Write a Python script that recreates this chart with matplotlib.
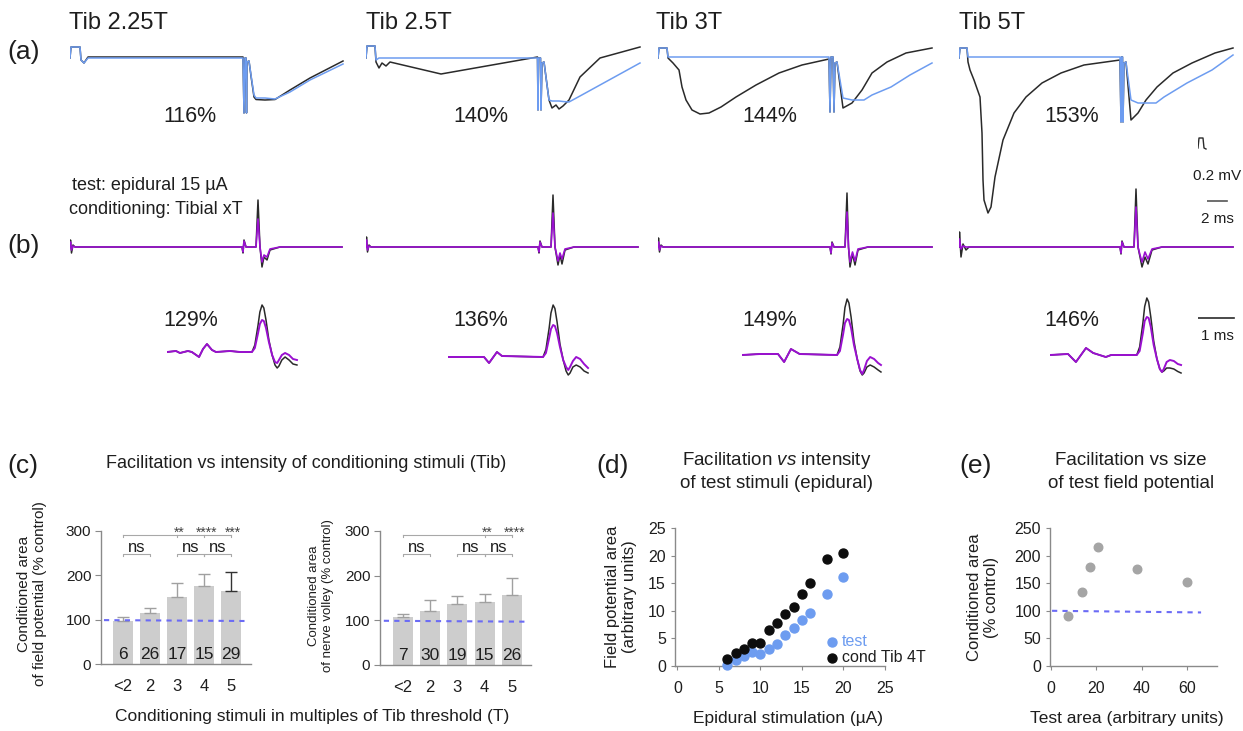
import numpy as np
import matplotlib
matplotlib.use("Agg")
import matplotlib.pyplot as plt

plt.rcParams['font.family'] = ['Liberation Sans', 'DejaVu Sans']
plt.rcParams['mathtext.fontset'] = 'custom'
plt.rcParams['mathtext.it'] = 'Liberation Sans:italic'
plt.rcParams['mathtext.rm'] = 'Liberation Sans'

# ---- labels ----
COLUMN_TITLES = ['Tib 2.25T', 'Tib 2.5T', 'Tib 3T', 'Tib 5T']
FP_PERCENT = ['116%', '140%', '144%', '153%']
NV_PERCENT = ['129%', '136%', '149%', '146%']

# ---- (a) field potentials (time ms, amplitude mV) ----
a1_t = [0, 0.1, 1.0, 1.1, 1.4, 1.8, 10.0, 17.3, 17.4, 17.5, 17.6, 17.65, 17.7, 17.9, 18.1, 18.4, 18.6, 19.5, 20.5, 22.0, 24.0, 27.3]
a1_blue = [0, 0.22, 0.22, -0.04, -0.1, 0, 0, 0, -1.1, 0, 0, -1.1, -0.08, -0.06, -0.34, -0.74, -0.8, -0.8, -0.82, -0.68, -0.44, -0.12]
a1_black = [0, 0.22, 0.22, -0.04, -0.1, 0.02, 0.02, 0.02, -1.1, 0, 0, -1.1, -0.08, -0.06, -0.36, -0.78, -0.83, -0.84, -0.83, -0.64, -0.4, -0.06]

a2_t = [0, 0.1, 0.9, 1.0, 1.3, 1.6, 2.0, 2.4, 7.5, 17.15, 17.2, 17.25, 17.45, 17.5, 17.6, 17.8, 18.3, 18.6, 19.0, 19.3, 19.7, 20.3, 21.4, 23.4, 27.4]
a2_blue = [0, 0.24, 0.24, -0.04, 0, 0, 0, 0, 0, 0, -1.04, 0, 0, -1.04, -0.1, -0.08, -0.84, -0.86, -0.86, -0.86, -0.87, -0.88, -0.76, -0.54, -0.1]
a2_black = [0, 0.24, 0.24, -0.08, -0.2, -0.1, -0.16, -0.08, -0.32, 0.02, -1.04, 0, 0, -1.04, -0.1, -0.08, -0.84, -1.0, -0.94, -1.02, -0.96, -0.84, -0.38, 0.0, 0.22]

a3_blue_t = [0, 0.1, 0.9, 1.0, 17.1, 17.2, 17.3, 17.5, 17.6, 17.7, 17.9, 18.5, 19.4, 20.6, 21.4, 23.3, 25.2, 27.4]
a3_blue = [0, 0.2, 0.2, 0.02, 0.02, -1.08, 0.02, 0.02, -1.08, -0.1, -0.08, -0.8, -0.84, -0.84, -0.74, -0.58, -0.34, -0.1]
a3_black_t = [0, 0.1, 0.9, 1.0, 1.5, 2.1, 2.4, 2.8, 3.4, 4.2, 5.1, 6.3, 7.8, 9.8, 12.1, 14.4, 17.1, 17.2, 17.3, 17.5,
              17.6, 17.7, 17.9, 18.5, 19.4, 20.4, 21.4, 22.9, 24.8, 27.4]
a3_black = [0, 0.2, 0.2, 0, -0.1, -0.24, -0.58, -0.84, -1.04, -1.12, -1.1, -0.98, -0.78, -0.54, -0.3, -0.14, -0.02, -1.08, 0.02, 0.02,
            -1.08, -0.1, -0.08, -1.0, -0.9, -0.64, -0.3, -0.08, 0.1, 0.2]

a4_blue_t = [0, 0.1, 0.8, 0.9, 16.1, 16.2, 16.25, 16.35, 16.4, 16.5, 16.7, 17.2, 17.9, 19.7, 20.5, 22.8, 25.3, 27.4]
a4_blue = [0, 0.2, 0.2, 0.02, 0.02, -1.28, 0.02, 0.02, -1.28, -0.1, -0.08, -0.84, -0.9, -0.9, -0.78, -0.5, -0.24, 0.06]
a4_black_t = [0, 0.1, 0.8, 0.9, 1.1, 1.5, 2.1, 2.3, 2.4, 2.5, 2.9, 3.2, 3.6, 4.4, 5.5, 6.7, 8.3, 10.2, 12.5, 16.1,
              16.2, 16.25, 16.35, 16.4, 16.5, 16.7, 17.2, 17.9, 18.7, 19.8, 21.4, 23.3, 25.6, 27.4]
a4_black = [0, 0.2, 0.2, -0.08, -0.24, -0.44, -0.78, -1.5, -2.44, -2.84, -3.1, -2.98, -2.38, -1.64, -1.1, -0.78, -0.5, -0.3, -0.14, -0.04,
            -1.28, 0.02, 0.02, -1.28, -0.1, -0.08, -1.24, -1.1, -0.84, -0.58, -0.3, -0.1, 0.1, 0.2]

# ---- (b) nerve volleys ----
b1_t = [0, 0.05, 0.15, 0.3, 0.5, 17.2, 17.3, 17.4, 17.6, 18.6, 18.8, 19.0, 19.2, 19.4, 19.7, 20.0, 21.0, 27.2]
b1_black = [0, 0.14, -0.12, 0.04, 0, 0, -0.12, 0.14, 0, 0, 0.94, 0, -0.4, -0.2, -0.26, -0.06, 0, 0]
b1_purple = [0, 0.1, -0.06, 0.02, 0, 0, -0.1, 0.12, 0, 0, 0.56, 0, -0.3, -0.16, -0.2, -0.04, 0, 0]

b2_t = [0, 0.05, 0.15, 0.3, 0.5, 17.2, 17.3, 17.4, 17.6, 18.5, 18.7, 18.9, 19.2, 19.4, 19.6, 19.9, 20.8, 27.2]
b2_black = [0, 0.2, -0.1, 0.04, 0, 0, -0.12, 0.12, 0, 0, 1.04, 0, -0.36, -0.16, -0.34, -0.06, 0, 0]
b2_purple = [0, 0.14, -0.06, 0.02, 0, 0, -0.1, 0.1, 0, 0, 0.68, 0, -0.28, -0.12, -0.24, -0.04, 0, 0]

b3_t = [0, 0.05, 0.15, 0.3, 0.5, 17.2, 17.3, 17.4, 17.6, 18.7, 18.9, 19.05, 19.2, 19.45, 19.7, 20.0, 21.0, 27.4]
b3_black = [0, 0.18, -0.1, 0.04, 0, 0, -0.14, 0.1, 0, 0, 1.08, 0, -0.4, -0.14, -0.36, -0.06, 0, 0]
b3_purple = [0, 0.1, -0.06, 0.02, 0, 0, -0.12, 0.08, 0, 0, 0.7, 0, -0.3, -0.1, -0.28, -0.04, 0, 0]

b4_t = [0, 0.05, 0.2, 0.4, 0.7, 1.0, 16.1, 16.2, 16.3, 16.5, 17.5, 17.7, 17.9, 18.1, 18.3, 18.6, 18.9, 19.3, 20.3, 27.4]
b4_black = [0, 0.3, -0.2, 0.06, -0.06, 0, 0, -0.14, 0.12, 0, 0, 1.16, 0, -0.2, -0.4, -0.2, -0.34, -0.06, 0, 0]
b4_purple = [0, 0.16, -0.04, 0.02, 0, 0, 0, -0.12, 0.1, 0, 0, 0.8, 0, -0.16, -0.3, -0.1, -0.24, -0.04, 0, 0]

# ---- (b) expanded volleys ----
z1_t = [0, 0.25, 0.36, 0.58, 0.69, 0.89, 1.0, 1.11, 1.25, 1.36, 1.75, 2.03,
        2.36, 2.44, 2.53, 2.58, 2.64, 2.69, 2.75, 2.83, 2.92, 3.0, 3.06, 3.11, 3.19, 3.28, 3.39, 3.5, 3.61]
z1_black = [0, 0.02, -0.02, 0.02, 0, -0.1, 0.06, 0.16, 0.04, 0, 0.02, 0,
            0, 0.14, 0.54, 0.8, 0.94, 0.88, 0.64, 0.24, -0.06, -0.26, -0.32, -0.28, -0.16, -0.1, -0.16, -0.24, -0.26]
z1_purple = [0, 0.02, -0.02, 0.02, 0, -0.1, 0.06, 0.16, 0.04, 0, 0.02, 0,
             0, 0.08, 0.38, 0.56, 0.64, 0.62, 0.48, 0.2, -0.06, -0.2, -0.22, -0.16, -0.06, -0.02, -0.06, -0.14, -0.16]

z2_t = [0, 0.5, 1.0, 1.14, 1.36, 1.5,
        2.64, 2.72, 2.81, 2.86, 2.92, 2.97, 3.03, 3.11, 3.2, 3.28, 3.34, 3.39, 3.47, 3.56, 3.67, 3.78, 3.89]
z2_black = [0, 0, 0, -0.12, 0.1, 0.02,
            0, 0.15, 0.58, 0.88, 1.04, 0.97, 0.7, 0.26, -0.06, -0.28, -0.36, -0.32, -0.2, -0.16, -0.2, -0.28, -0.32]
z2_purple = [0, 0, 0, -0.12, 0.1, 0.02,
             0, 0.08, 0.38, 0.56, 0.64, 0.62, 0.48, 0.2, -0.06, -0.2, -0.26, -0.2, -0.08, 0, -0.04, -0.14, -0.22]

z3_t = [0, 0.5, 1.0, 1.17, 1.36, 1.6,
        2.64, 2.72, 2.81, 2.86, 2.92, 2.97, 3.03, 3.11, 3.2, 3.28, 3.34, 3.39, 3.47, 3.56, 3.67, 3.78, 3.86]
z3_black = [0, 0.02, 0.02, -0.14, 0.12, 0.02,
            0, 0.16, 0.62, 0.95, 1.12, 1.04, 0.76, 0.28, -0.08, -0.32, -0.4, -0.36, -0.24, -0.2, -0.24, -0.3, -0.34]
z3_purple = [0, 0.02, 0.02, -0.14, 0.12, 0.02,
             0, 0.08, 0.42, 0.64, 0.72, 0.7, 0.54, 0.2, -0.08, -0.3, -0.38, -0.3, -0.12, -0.04, -0.08, -0.16, -0.2]

z4_t = [0, 0.5, 0.72, 1.0, 1.2, 1.55, 1.7,
        2.41, 2.49, 2.58, 2.63, 2.69, 2.74, 2.8, 2.88, 2.97, 3.05, 3.11, 3.16, 3.24, 3.33, 3.44, 3.55, 3.64]
z4_black = [0, 0.02, -0.14, 0.14, 0.04, -0.04, 0,
            0, 0.16, 0.64, 0.97, 1.14, 1.06, 0.76, 0.28, -0.08, -0.28, -0.34, -0.32, -0.26, -0.26, -0.28, -0.33, -0.36]
z4_purple = [0, 0.02, -0.14, 0.14, 0.04, -0.04, 0,
             0, 0.08, 0.44, 0.68, 0.76, 0.74, 0.56, 0.2, -0.08, -0.28, -0.34, -0.28, -0.14, -0.1, -0.12, -0.18, -0.2]

# calibration pulse 0.2 mV
cal_t = [0, 0.1, 0.5, 0.6, 0.8]
cal_v = [0, 0.2, 0.2, 0, -0.02]

# ---- (c) bars ----
COND_LABELS = ['<2', '2', '3', '4', '5']
fp_mean = [98, 114, 152, 176, 165]
fp_err = [8, 13, 31, 27, 43]
fp_n = [6, 26, 17, 15, 29]
fp_stars = ['', '', '**', '****', '***']
nv_mean = [107, 121, 137, 141, 157]
nv_err = [7, 24, 17, 17, 37]
nv_n = [7, 30, 19, 15, 26]
nv_stars = ['', '', '', '**', '****']
NS_PAIRS = [(0, 1), (2, 3), (3, 4)]

# ---- (d) recruitment ----
epi_ua = [6, 7, 8, 9, 10, 11, 12, 13, 14, 15, 16, 18, 20]
test_area = [0.1, 1.15, 1.8, 2.55, 2.25, 3.0, 4.05, 5.7, 6.8, 8.3, 9.6, 13.0, 16.2]
cond_area = [1.3, 2.4, 3.0, 4.25, 4.25, 6.5, 7.7, 9.5, 10.7, 13.1, 15.0, 19.4, 20.4]

# ---- (e) facilitation vs size ----
size_test = [7.5, 13.6, 17.3, 20.5, 37.8, 59.6]
size_cond = [91, 134, 180, 216, 175, 153]

BLACK = '#2a2a2a'
BLUE = '#6d9cf0'
PURPLE = '#9a10d0'
BAR_GRAY = '#cdcdcd'
AX_GRAY = '#8a8a8a'
DASH_BLUE = '#6b6bf5'
TXT = '#1e1e1e'

W, H = 1243, 731
fig = plt.figure(figsize=(W / 100, H / 100), dpi=100)


def box(l, t, r, b):
    return [l / W, 1 - b / H, (r - l) / W, (b - t) / H]


def px(x, y):
    return x / W, 1 - y / H


def trace_axes(x0, base, width, top, bottom, px_ms, px_mv=50):
    ax = fig.add_axes(box(x0, top, x0 + width, bottom))
    ax.set_xlim(0, width / px_ms)
    ax.set_ylim(-(bottom - base) / px_mv, (base - top) / px_mv)
    ax.axis('off')
    return ax


# ---------- (a) ----------
a_traces = [(a1_t, a1_black, a1_t, a1_blue), (a2_t, a2_black, a2_t, a2_blue),
            (a3_black_t, a3_black, a3_blue_t, a3_blue), (a4_black_t, a4_black, a4_blue_t, a4_blue)]
A_X0 = [70, 366, 658, 959]
for x0, (tk, vk, tb, vb) in zip(A_X0, a_traces):
    ax = trace_axes(x0, 58, 280, 35, 228, 10)
    ax.plot(tk, vk, color=BLACK, lw=1.1)
    ax.plot(tb, vb, color=BLUE, lw=1.1)

# ---------- (b) ----------
b_traces = [(b1_t, b1_black, b1_purple), (b2_t, b2_black, b2_purple),
            (b3_t, b3_black, b3_purple), (b4_t, b4_black, b4_purple)]
for x0, (t, vk, vp) in zip(A_X0, b_traces):
    ax = trace_axes(x0, 247, 280, 180, 285, 10)
    ax.plot(t, vk, color=BLACK, lw=1.1)
    ax.plot(t, vp, color=PURPLE, lw=1.2)

z_traces = [(z1_t, z1_black, z1_purple), (z2_t, z2_black, z2_purple),
            (z3_t, z3_black, z3_purple), (z4_t, z4_black, z4_purple)]
Z_X0 = [167, 448, 742, 1050]
Z_BASE = [352, 357, 355, 355]
for x0, base, (t, vk, vp) in zip(Z_X0, Z_BASE, z_traces):
    ax = trace_axes(x0, base, 145, 285, 390, 36)
    ax.plot(t, vk, color=BLACK, lw=1.1)
    ax.plot(t, vp, color=PURPLE, lw=1.4)

# calibration
ax = trace_axes(1198, 148, 12, 130, 160, 10)
ax.plot(cal_t, cal_v, color=BLACK, lw=1.0)
ax = trace_axes(1207, 201, 22, 195, 207, 10)
ax.plot([0, 2], [0, 0], color='#555555', lw=1.2)
ax = trace_axes(1198, 318, 42, 312, 324, 36)
ax.plot([0, 1], [0, 0], color=BLACK, lw=1.2)
fig.text(*px(1217, 176), '0.2 mV', fontsize=11, ha='center', va='center', color=TXT)
fig.text(*px(1217, 219), '2 ms', fontsize=11, ha='center', va='center', color=TXT)
fig.text(*px(1217, 336), '1 ms', fontsize=11, ha='center', va='center', color=TXT)

for x0, title in zip([69, 366, 656, 959], COLUMN_TITLES):
    fig.text(*px(x0, 23), title, fontsize=17, ha='left', va='center', color=TXT)
for xc, p in zip([190, 481, 770, 1072], FP_PERCENT):
    fig.text(*px(xc, 116), p, fontsize=15.5, ha='center', va='center', color=TXT)
for xc, p in zip([191, 481, 770, 1072], NV_PERCENT):
    fig.text(*px(xc, 321), p, fontsize=15.5, ha='center', va='center', color=TXT)
fig.text(*px(72, 186), 'test: epidural 15 µA', fontsize=13, ha='left', va='center', color=TXT)
fig.text(*px(69, 209), 'conditioning: Tibial xT', fontsize=13, ha='left', va='center', color=TXT)

for x0, y0, lab in [(7, 52, '(a)'), (7, 246, '(b)'), (7, 466, '(c)'), (596, 466, '(d)'), (959, 466, '(e)')]:
    fig.text(*px(x0, y0), lab, fontsize=19, ha='left', va='center', color=TXT)


# ---------- (c) ----------
def style_axes(ax):
    for s in ['top', 'right']:
        ax.spines[s].set_visible(False)
    for s in ['left', 'bottom']:
        ax.spines[s].set_color(AX_GRAY)
        ax.spines[s].set_linewidth(1.0)
    ax.tick_params(colors=AX_GRAY, labelcolor=TXT)


def bar_panel(rect, xlim, means, errs, counts, stars, err_colors):
    ax = fig.add_axes(box(*rect))
    x = np.arange(len(COND_LABELS))
    ax.bar(x, means, width=0.74, color=BAR_GRAY, zorder=2)
    for xi, m, e, c in zip(x, means, errs, err_colors):
        ax.errorbar(xi, m, yerr=[[0], [e]], color=c, capsize=4, lw=1, capthick=1, zorder=3)
    ax.plot([-0.7, 4.5], [99, 97], ls=(0, (2.5, 2.5)), color=DASH_BLUE, lw=1.5, zorder=4)
    for xi, n in zip(x, counts):
        ax.text(xi, 22, str(n), ha='center', va='center', fontsize=12.5, color=TXT, zorder=5)
    br = dict(color='#a8a8a8', lw=0.8, clip_on=False)
    ax.plot([0, 4], [291, 291], **br)
    ax.plot([0, 0], [291, 287], **br)
    for i, s in enumerate(stars):
        if s:
            ax.plot([i, i], [291, 287], **br)
            ax.text(i + 0.08, 287, s, ha='center', va='baseline', fontsize=10, color='#444444')
    for a, b in NS_PAIRS:
        ax.plot([a, a, b, b], [244, 248, 248, 244], **br)
        ax.text((a + b) / 2, 252, 'ns', ha='center', va='baseline', fontsize=12, color=TXT)
    ax.set_xlim(*xlim)
    ax.set_ylim(0, 300)
    ax.set_yticks([0, 100, 200, 300])
    ax.set_xticks(x)
    ax.set_xticklabels(COND_LABELS)
    style_axes(ax)
    ax.tick_params(axis='x', length=0, pad=11, labelsize=12)
    ax.tick_params(axis='y', length=4, pad=3, labelsize=11)
    return ax


bar_panel((101, 531, 251, 664), (-0.81, 4.74), fp_mean, fp_err, fp_n, fp_stars,
          ['#a0a0a0'] * 4 + ['#333333'])
bar_panel((380, 531, 531, 665), (-0.84, 4.7), nv_mean, nv_err, nv_n, nv_stars,
          ['#a0a0a0'] * 5)

fig.text(*px(306, 464), 'Facilitation vs intensity of conditioning stimuli (Tib)', fontsize=13,
         ha='center', va='center', color=TXT)
fig.text(*px(312, 717), 'Conditioning stimuli in multiples of Tib threshold (T)', fontsize=12.5,
         ha='center', va='center', color=TXT)
fig.text(*px(32, 594), 'Conditioned area\nof field potential (% control)', fontsize=11, rotation=90,
         ha='center', va='center', multialignment='center', linespacing=1.2, color=TXT)
fig.text(*px(321, 596), 'Conditioned area\nof nerve volley (% control)', fontsize=9.5, rotation=90,
         ha='center', va='center', multialignment='center', linespacing=1.2, color=TXT)

# ---------- (d) ----------
ax = fig.add_axes(box(675, 528, 885, 666))
ax.scatter(epi_ua, test_area, s=42, color=BLUE, label='test', clip_on=False, zorder=3)
ax.scatter(epi_ua, cond_area, s=42, color='#0d0d0d', label='cond Tib 4T', clip_on=False, zorder=3)
ax.set_xlim(-0.3, 25)
ax.set_ylim(0, 25)
ax.set_xticks([0, 5, 10, 15, 20, 25])
ax.set_yticks([0, 5, 10, 15, 20, 25])
style_axes(ax)
ax.tick_params(length=3, labelsize=11.5)
ax.tick_params(axis='x', pad=8)
leg = ax.legend(loc='upper left', bbox_to_anchor=(0.71, 0.23), frameon=False, fontsize=11.5,
                handletextpad=0.1, labelspacing=0.05, borderpad=0, borderaxespad=0,
                handlelength=1.0, scatterpoints=1)
leg.get_texts()[0].set_color(BLUE)
leg.get_texts()[1].set_color(TXT)
fig.text(*px(777, 460), 'Facilitation $\\mathit{vs}$ intensity', fontsize=13.5, ha='center', va='center', color=TXT)
fig.text(*px(777, 483), 'of test stimuli (epidural)', fontsize=13.5, ha='center', va='center', color=TXT)
fig.text(*px(788, 718), 'Epidural stimulation (µA)', fontsize=12.5, ha='center', va='center', color=TXT)
fig.text(*px(621, 597), 'Field potential area\n(arbitrary units)', fontsize=12, rotation=90,
         ha='center', va='center', multialignment='center', linespacing=1.1, color=TXT)

# ---------- (e) ----------
ax = fig.add_axes(box(1050, 528, 1217, 666))
ax.scatter(size_test, size_cond, s=38, color='#a5a5a5', clip_on=False, zorder=3)
ax.plot([0.5, 66], [100, 97], ls=(0, (2.5, 2.5)), color=DASH_BLUE, lw=1.5)
ax.set_xlim(-0.4, 73)
ax.set_ylim(0, 250)
ax.set_xticks([0, 20, 40, 60])
ax.set_yticks([0, 50, 100, 150, 200, 250])
style_axes(ax)
ax.tick_params(length=3, labelsize=11.5)
ax.tick_params(axis='x', pad=8)
fig.text(*px(1131, 460), 'Facilitation vs size', fontsize=13.5, ha='center', va='center', color=TXT)
fig.text(*px(1131, 483), 'of test field potential', fontsize=13.5, ha='center', va='center', color=TXT)
fig.text(*px(1127, 718), 'Test area (arbitrary units)', fontsize=12.5, ha='center', va='center', color=TXT)
fig.text(*px(983, 597), 'Conditioned area\n(% control)', fontsize=12, rotation=90,
         ha='center', va='center', multialignment='center', linespacing=1.1, color=TXT)

fig.savefig('out.png', dpi=100)
